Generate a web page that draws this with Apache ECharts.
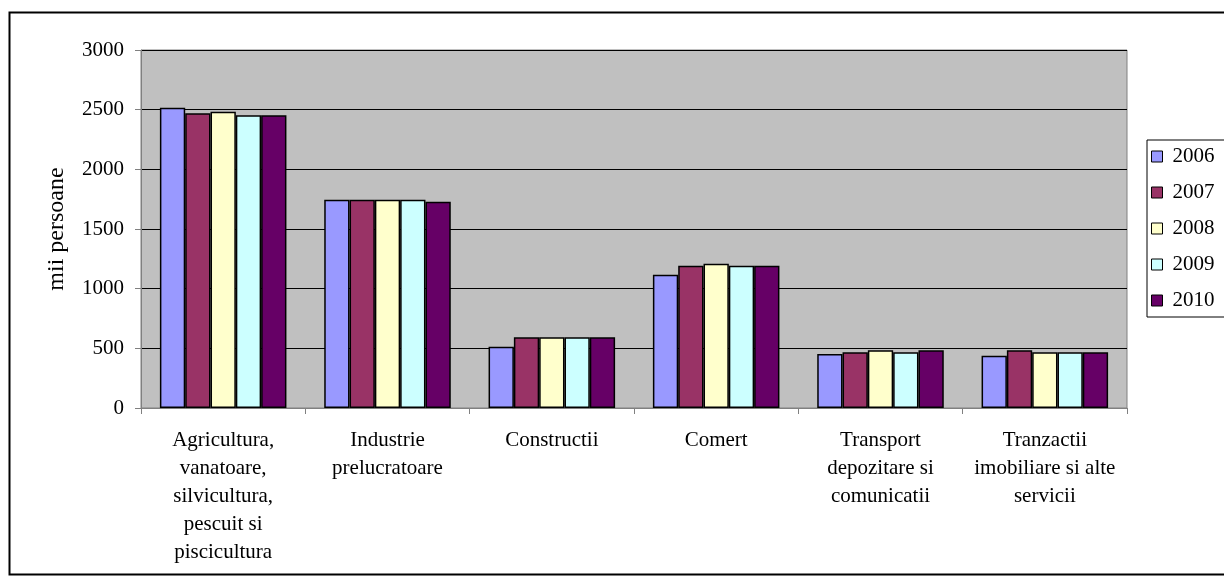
<!DOCTYPE html>
<html>
<head>
<meta charset="utf-8">
<script src="https://cdn.jsdelivr.net/npm/echarts@6/dist/echarts.min.js"></script>
<style>
  html, body { margin: 0; padding: 0; background: #fff; }
  #chart { width: 1224px; height: 583px; }
</style>
</head>
<body>
<div id="chart"></div>
<script>
// Employment by economic activity (thousand persons), 2006-2010
const categories = [
  'Agricultura,\nvanatoare,\nsilvicultura,\npescuit si\npiscicultura',
  'Industrie\nprelucratoare',
  'Constructii',
  'Comert',
  'Transport\ndepozitare si\ncomunicatii',
  'Tranzactii\nimobiliare si alte\nservicii'
];
const years = ['2006', '2007', '2008', '2009', '2010'];
const values2006 = [2516, 1746, 514, 1117, 452, 438];
const values2007 = [2469, 1746, 592, 1193, 467, 483];
const values2008 = [2483, 1746, 592, 1209, 483, 467];
const values2009 = [2453, 1746, 592, 1193, 467, 467];
const values2010 = [2453, 1729, 592, 1193, 483, 467];
const yTicks = [0, 500, 1000, 1500, 2000, 2500, 3000];

const seriesValues = [values2006, values2007, values2008, values2009, values2010];
const colors = ['#9999FF', '#993366', '#FFFFCC', '#CCFFFF', '#660066'];
const serif = '"Liberation Serif", "DejaVu Serif", serif';

const chart = echarts.init(document.getElementById('chart'), null, { renderer: 'canvas' });

chart.setOption({
  animation: false,
  color: colors,
  textStyle: { fontFamily: serif, color: '#000' },
  graphic: [{
    type: 'rect',
    shape: { x: 9.5, y: 12.5, width: 1240, height: 562 },
    style: { fill: 'none', stroke: '#000', lineWidth: 2 },
    z: -10
  }],
  grid: {
    left: 141, top: 50, width: 986, height: 358,
    show: true,
    backgroundColor: '#C0C0C0',
    borderColor: '#808080',
    borderWidth: 1
  },
  legend: {
    orient: 'vertical',
    left: 1147, top: 140,
    itemWidth: 11, itemHeight: 11,
    itemGap: 15,
    icon: 'rect',
    padding: [6, 30, 6, 4],
    borderColor: '#000', borderWidth: 1,
    backgroundColor: '#fff',
    textStyle: { fontFamily: serif, fontSize: 21, color: '#000', padding: [0, 0, 0, 5] },
    itemStyle: { borderColor: '#000', borderWidth: 1 },
    data: years
  },
  xAxis: {
    type: 'category',
    data: categories,
    axisLine: { lineStyle: { color: '#808080', width: 1 } },
    axisTick: { show: true, alignWithLabel: false, length: 6, lineStyle: { color: '#808080' } },
    axisLabel: {
      interval: 0,
      margin: 18,
      fontFamily: serif, fontSize: 21, color: '#000',
      lineHeight: 28, align: 'center'
    }
  },
  yAxis: {
    type: 'value',
    min: 0, max: 3000, interval: 500,
    name: 'mii persoane',
    nameLocation: 'middle',
    nameGap: 72,
    nameRotate: 90,
    nameTextStyle: { fontFamily: serif, fontSize: 24, color: '#000' },
    axisLine: { show: true, lineStyle: { color: '#808080' } },
    axisTick: { show: true, inside: false, length: 6, lineStyle: { color: '#808080' } },
    axisLabel: {
      margin: 17, fontFamily: serif, fontSize: 21, color: '#000',
      formatter: v => (yTicks.indexOf(v) >= 0 ? String(v) : '')
    },
    splitLine: { show: true, lineStyle: { color: '#000', width: 1 } }
  },
  series: years.map((y, i) => ({
    name: y,
    type: 'bar',
    data: seriesValues[i],
    barGap: '0%',
    barCategoryGap: '23%',
    itemStyle: { color: colors[i], borderColor: '#000', borderWidth: 1.5 }
  }))
});
</script>
</body>
</html>
